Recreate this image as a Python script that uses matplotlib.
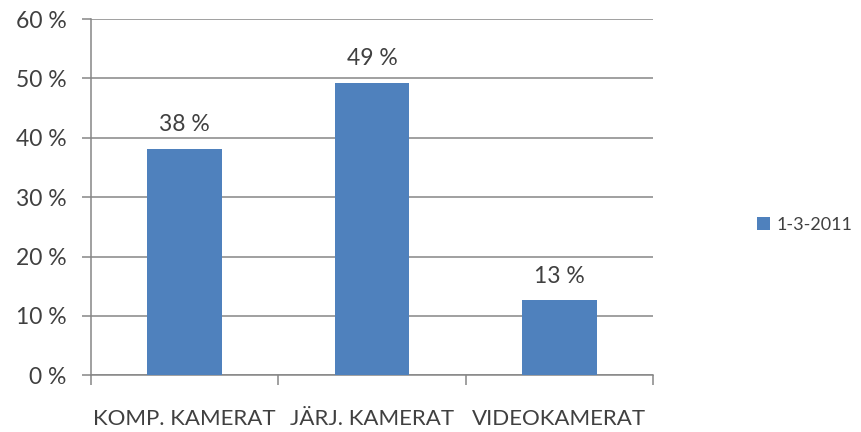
import matplotlib
matplotlib.use("Agg")
import matplotlib.pyplot as plt
from matplotlib.ticker import FixedLocator

# kameratyper och andel (procent)
kategorier = ["KOMP. KAMERAT", "JÄRJ. KAMERAT", "VIDEOKAMERAT"]
andelar = [38.1, 49.3, 12.6]
serie = "1-3-2011"
y_ticks = [0, 10, 20, 30, 40, 50, 60]

plt.rcParams['font.family'] = ['Lato', 'DejaVu Sans']
textfarg = '#404040'
gra = '#868686'

fig = plt.figure(figsize=(8.61, 4.32), dpi=100)
ax = fig.add_axes([0.1057, 0.1312, 0.6527, 0.8248])

x = list(range(len(kategorier)))
staplar = ax.bar(x, andelar, width=0.4, color='#4F81BD', label=serie, zorder=3)

for xi, v in zip(x, andelar):
    ax.annotate(f"{round(v)} %", (xi, v), xytext=(0, 10), textcoords='offset points',
                ha='center', va='bottom', fontsize=16.5, color=textfarg)

ax.set_xlim(-0.5, len(kategorier) - 0.5)
ax.set_ylim(0, 60)
ax.set_yticks(y_ticks)
ax.set_yticklabels([f"{t} %" for t in y_ticks])
ax.yaxis.grid(True, color=gra, linewidth=1.1, zorder=0)

# kategorinamn i mitten, streck mellan kategorierna
ax.set_xticks(x)
ax.set_xticklabels(kategorier)
ax.xaxis.set_minor_locator(FixedLocator([-0.5, 0.5, 1.5, 2.5]))
ax.tick_params(axis='x', which='major', length=0, pad=24, labelsize=16, labelcolor=textfarg)
ax.tick_params(axis='x', which='minor', length=7, width=1.1, color=gra)
ax.tick_params(axis='y', length=6.5, width=1.1, color=gra, pad=11, labelsize=16.5, labelcolor=textfarg)

for side in ['top', 'right']:
    ax.spines[side].set_visible(False)
for side in ['left', 'bottom']:
    ax.spines[side].set_color(gra)
    ax.spines[side].set_linewidth(1.1)

leg = fig.legend(handles=[staplar], labels=[serie], loc='center left',
                 bbox_to_anchor=(0.86, 0.48), frameon=False, fontsize=13,
                 handlelength=0.75, handleheight=0.75, handletextpad=0.35)
for t in leg.get_texts():
    t.set_color(textfarg)

fig.savefig("out.png", dpi=100)
